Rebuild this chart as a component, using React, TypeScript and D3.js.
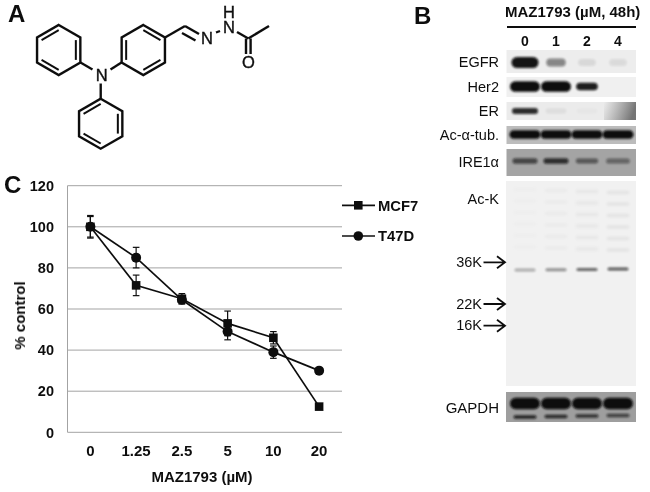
import React from 'react';
import * as d3 from 'd3';

// panel C
const doses = ['0', '1.25', '2.5', '5', '10', '20'];
const mcf7 = [100, 71.5, 65, 53, 46, 12.5];
const mcf7Err = [5.5, 5, 2.5, 6, 3, 1];
const t47d = [100, 85, 64.5, 49, 39, 30];
const t47dErr = [5, 5, 2, 4, 3, 1];
const yTicks = [0, 20, 40, 60, 80, 100, 120];

// panel B, band darkness per lane (0-1)
const lanes = ['0', '1', '2', '4'];
const egfr = [0.97, 0.45, 0.09, 0.08];
const her2 = [1, 1, 0.92, 0];
const er = [0.85, 0.06, 0.02, 0];
const tub = [1, 1, 1, 1];
const ire1 = [0.62, 0.78, 0.5, 0.42];
const acK = [0.3, 0.42, 0.6, 0.65];
const gapdhTop = [1, 1, 1, 1];
const gapdhLow = [0.85, 0.8, 0.75, 0.65];
const markers = ['36K', '22K', '16K'];

const W = 650;
const H = 492;

const x = d3.scaleBand<string>().domain(doses).range([67.5, 342]);
const y = d3.scaleLinear().domain([0, 120]).range([432.3, 185.7]);
const cx = (i: number) => (x(doses[i]) as number) + x.bandwidth() / 2;

const laneX = d3.scaleBand<string>().domain(lanes).range([509.5, 633.5]);
const laneC = (i: number) => (laneX(lanes[i]) as number) + laneX.bandwidth() / 2;

const seriesLine = d3.line<number>().x((_, i) => cx(i)).y((d) => y(d));

// layout for each blot, sizes scale the band in that lane
const panels: any[] = [
  { label: 'EGFR', top: 50, bottom: 73, bg: '#ededed', values: egfr, by: 62.5, bh: 11, bw: 27, sizes: [1, 0.72, 0.65, 0.65] },
  { label: 'Her2', top: 77, bottom: 97, bg: '#f0f0f0', values: her2, by: 86.5, bh: 10.5, bw: 30, sizes: [1, 1, 0.72, 1] },
  { label: 'ER', top: 102, bottom: 120, bg: '#ebebeb', values: er, by: 111, bh: 6, bw: 26, sizes: [1, 0.8, 0.8, 1] },
  { label: 'Ac-\u03b1-tub.', top: 126, bottom: 144, bg: '#bcbcbc', values: tub, by: 134.5, bh: 8.5, bw: 31, sizes: [1, 1, 1, 1] },
  { label: 'IRE1\u03b1', top: 149, bottom: 176, bg: '#a4a4a4', values: ire1, by: 161, bh: 5.5, bw: 25, sizes: [1, 1, 0.9, 0.95] },
];

const Band = ({ i, v, by, bh, bw, s = 1 }: any) => (
  <rect
    x={laneC(i) - (bw * s) / 2}
    y={by - (bh * s) / 2}
    width={bw * s}
    height={bh * s}
    rx={(bh * s) / 2}
    fill="#0a0a0a"
    opacity={v}
    filter="url(#bandBlur)"
  />
);

// molecule in panel A
const ringCenters = [
  [58.7, 50],
  [143.3, 50],
  [100.7, 123.7],
];
const R = 25;
const hex = (c: number[], r: number) =>
  d3.range(6).map((k) => {
    const a = (Math.PI / 3) * k - Math.PI / 2;
    return [c[0] + r * Math.cos(a), c[1] + r * Math.sin(a)] as [number, number];
  });
const bonds = [
  [[80.5, 62.5], [92.5, 69.5]],
  [[121.5, 62.5], [110.5, 69.5]],
  [[100.7, 83.5], [100.7, 98.7]],
  [[165, 37.5], [185, 26]],
  [[185, 26], [199, 34]],
  [[182, 33], [195.5, 40.5]],
  [[216, 32.5], [220, 31]],
  [[237, 32], [248.3, 38.5]],
  [[248.3, 38.5], [269, 26]],
  [[246, 38.5], [246, 54]],
  [[250.6, 38.5], [250.6, 54]],
];
const atoms = [
  ['N', 101.7, 75.5],
  ['N', 207, 38.5],
  ['O', 248.3, 62],
];
const bond = d3.line();

export default function App() {
  const text = "'Liberation Sans', Arial, sans-serif";
  return (
    <svg
      width={W}
      height={H}
      viewBox={`0 0 ${W} ${H}`}
      style={{ position: 'absolute', left: 0, top: 0, background: '#fff', fontFamily: text }}
    >
      <defs>
        <filter id="bandBlur" x="-30%" y="-80%" width="160%" height="260%">
          <feGaussianBlur stdDeviation="0.8" />
        </filter>
        <filter id="smear" x="-20%" y="-200%" width="140%" height="500%">
          <feGaussianBlur stdDeviation="1.4" />
        </filter>
        <filter id="soft" x="-5%" y="-5%" width="110%" height="110%">
          <feGaussianBlur stdDeviation="0.35" />
        </filter>
        <linearGradient id="erShade" x1="0" x2="1" y1="0" y2="0.2">
          <stop offset="0" stopColor="#777" stopOpacity="0" />
          <stop offset="1" stopColor="#606060" stopOpacity="0.85" />
        </linearGradient>
      </defs>

      {/* panel letters */}
      <g fontWeight="bold" fontSize={24} fill="#111" filter="url(#soft)">
        <text x={8} y={22}>A</text>
        <text x={414} y={24}>B</text>
        <text x={4} y={193}>C</text>
      </g>

      {/* molecule */}
      <g fill="none" stroke="#111" strokeWidth={2.4} filter="url(#soft)">
        {ringCenters.map((c, i) => {
          const outer = hex(c, R);
          const inner = hex(c, R - 5.2);
          const start = i === 1 ? 0 : 1;
          return (
            <g key={i}>
              <path d={(bond(outer) as string) + 'Z'} />
              {[0, 2, 4].map((k) => (
                <path
                  key={k}
                  d={bond([inner[(k + start) % 6], inner[(k + start + 1) % 6]]) as string}
                  strokeWidth={2}
                />
              ))}
            </g>
          );
        })}
        {bonds.map((b, i) => (
          <path key={i} d={bond(b as [number, number][]) as string} />
        ))}
      </g>
      <g fontSize={16.5} fill="#111" stroke="#111" strokeWidth={0.4} textAnchor="middle" filter="url(#soft)">
        {atoms.map(([a, ax, ay], i) => (
          <text key={i} x={ax as number} y={ay as number} dy="0.36em">{a}</text>
        ))}
        {/* stacked H over N, one label */}
        <text>
          <tspan x={229} y={17.5}>H</tspan>
          <tspan x={229} y={33}>N</tspan>
        </text>
      </g>

      {/* panel B */}
      <g filter="url(#soft)">
        <text x={505} y={17} fontSize={15} fontWeight="bold" fill="#111">MAZ1793 (µM, 48h)</text>
        <line x1={507} x2={636} y1={27} y2={27} stroke="#111" strokeWidth={2} />
        {lanes.map((l, i) => (
          <text key={l} x={laneC(i)} y={45.7} fontSize={14} fontWeight="bold" textAnchor="middle" fill="#111">
            {l}
          </text>
        ))}
      </g>
      {panels.map((p) => (
        <g key={p.label}>
          <rect x={506.5} width={129.5} y={p.top} height={p.bottom - p.top} fill={p.bg} />
          {p.label === 'ER' && (
            <rect x={604} width={32} y={p.top} height={p.bottom - p.top} fill="url(#erShade)" />
          )}
          {p.values.map((v: number, i: number) => (
            <Band key={i} i={i} v={v} by={p.by} bh={p.bh} bw={p.bw} s={p.sizes[i]} />
          ))}
          <text
            x={499}
            y={(p.top + p.bottom) / 2 + (p.label === 'IRE1\u03b1' ? -0.5 : 0)}
            dy="0.36em"
            fontSize={14.5}
            textAnchor="end"
            fill="#111"
            filter="url(#soft)"
          >
            {p.label}
          </text>
        </g>
      ))}

      {/* Ac-K blot */}
      <rect x={506} width={130} y={181} height={205} fill="#f1f1f1" />
      {lanes.map((l, i) => (
        <g key={l}>
          {[0, 1, 2, 3, 4, 5].map((k) => (
            <rect
              key={k}
              x={laneC(i) - 11}
              y={188 + k * 11.5 + i}
              width={22}
              height={3}
              fill="#909090"
              opacity={0.04 + i * 0.04}
              filter="url(#smear)"
            />
          ))}
          <Band i={i} v={acK[i]} by={270 - i * 0.3} bh={3} bw={21} />
        </g>
      ))}
      <text x={499} y={198.5} dy="0.36em" fontSize={14.5} textAnchor="end" fill="#111" filter="url(#soft)">Ac-K</text>
      {markers.map((m, i) => {
        const my = [262.3, 304, 325.7][i];
        return (
          <g key={m} filter="url(#soft)">
            <text x={482} y={my - 0.5} dy="0.36em" fontSize={14.5} textAnchor="end" fill="#111">{m}</text>
            <path
              d={`M483.5,${my}H505M497,${my - 6}L505,${my}L497,${my + 6}`}
              fill="none"
              stroke="#111"
              strokeWidth={1.8}
            />
          </g>
        );
      })}

      {/* GAPDH blot */}
      <rect x={506} width={130} y={392} height={30} fill="#9e9e9e" />
      {lanes.map((l, i) => (
        <g key={l}>
          <Band i={i} v={gapdhTop[i]} by={403.5} bh={11.5} bw={30} />
          <Band i={i} v={gapdhLow[i]} by={417 - i * 0.5} bh={3.5} bw={23} />
        </g>
      ))}
      <text x={499} y={407.5} dy="0.36em" fontSize={15} textAnchor="end" fill="#111" filter="url(#soft)">GAPDH</text>

      {/* panel C */}
      {yTicks.map((t) => (
        <g key={t}>
          <line x1={67.5} x2={342} y1={y(t)} y2={y(t)} stroke="#a3a3a3" strokeWidth={1} />
          <text x={54} y={y(t)} dy="0.36em" fontSize={14.5} fontWeight="bold" textAnchor="end" fill="#111" filter="url(#soft)">
            {t}
          </text>
        </g>
      ))}
      <line x1={67.5} x2={67.5} y1={y(120)} y2={y(0)} stroke="#a3a3a3" />
      {doses.map((d, i) => (
        <text key={d} x={cx(i)} y={451} dy="0.36em" fontSize={15} fontWeight="bold" textAnchor="middle" fill="#111" filter="url(#soft)">
          {d}
        </text>
      ))}
      <text x={202} y={476.5} dy="0.36em" fontSize={15} fontWeight="bold" textAnchor="middle" fill="#111" filter="url(#soft)">
        MAZ1793 (µM)
      </text>
      <text
        transform="translate(20,315.5) rotate(-90)"
        dy="0.36em"
        fontSize={15}
        fontWeight="bold"
        textAnchor="middle"
        fill="#111"
        filter="url(#soft)"
      >
        % control
      </text>

      <g filter="url(#soft)">
        {[
          { v: mcf7, e: mcf7Err },
          { v: t47d, e: t47dErr },
        ].map((s, n) => (
          <g key={n} stroke="#111" fill="#111">
            <path d={seriesLine(s.v) as string} fill="none" strokeWidth={1.7} />
            {s.v.map((v, i) => (
              <g key={i} strokeWidth={1.2}>
                <line x1={cx(i)} x2={cx(i)} y1={y(v - s.e[i])} y2={y(v + s.e[i])} />
                <line x1={cx(i) - 3.3} x2={cx(i) + 3.3} y1={y(v - s.e[i])} y2={y(v - s.e[i])} />
                <line x1={cx(i) - 3.3} x2={cx(i) + 3.3} y1={y(v + s.e[i])} y2={y(v + s.e[i])} />
                {n === 0 ? (
                  <rect x={cx(i) - 4.3} y={y(v) - 4.3} width={8.6} height={8.6} stroke="none" />
                ) : (
                  <circle cx={cx(i)} cy={y(v)} r={5} stroke="none" />
                )}
              </g>
            ))}
          </g>
        ))}

        {/* legend */}
        <line x1={342} x2={375} y1={205.3} y2={205.3} stroke="#111" strokeWidth={1.7} />
        <rect x={354} y={201} width={8.6} height={8.6} fill="#111" />
        <text x={378} y={205.3} dy="0.36em" fontSize={14.8} fontWeight="bold" fill="#111">MCF7</text>
        <line x1={342} x2={375} y1={236} y2={236} stroke="#111" strokeWidth={1.7} />
        <circle cx={358.3} cy={236} r={4.8} fill="#111" />
        <text x={378} y={236} dy="0.36em" fontSize={14.8} fontWeight="bold" fill="#111">T47D</text>
      </g>
    </svg>
  );
}
